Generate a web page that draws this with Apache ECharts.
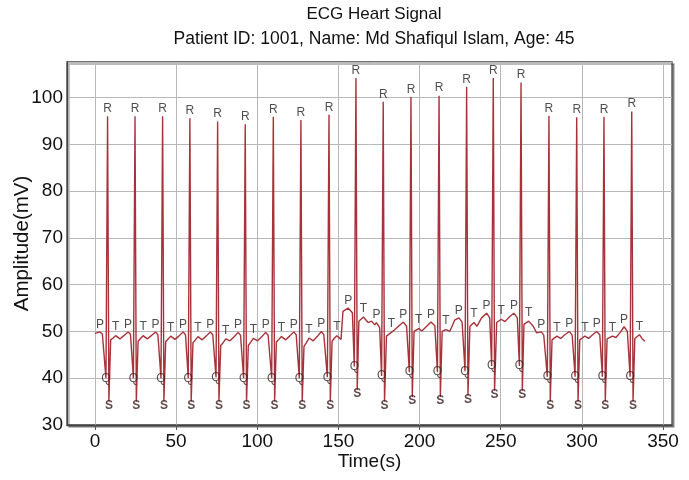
<!DOCTYPE html>
<html>
<head>
<meta charset="utf-8">
<script src="https://cdn.jsdelivr.net/npm/echarts@6/dist/echarts.min.js"></script>
<style>
  html, body { margin: 0; padding: 0; background: #fff; }
  #ecg { width: 689px; height: 480px; }
</style>
</head>
<body>
<div id="ecg"></div>
<script>
// ECG wave points: [time(s), amplitude(mV)]
var pWave = [[3.1,49.9],[20.4,49.9],[37.3,49.9],[54.3,49.9],[71.1,49.9],[88.2,49.8],[105.2,49.8],[122.5,49.9],[139.5,50.0],[156.0,55.0],
             [173.4,51.9],[190.0,52.0],[207.0,52.0],[224.2,52.9],[241.3,53.9],[258.1,53.9],[275.0,49.9],[292.2,50.0],[309.1,50.0],[326.0,51.0]];
var qWave = [[6.8,40.0],[23.7,40.0],[40.7,40.0],[57.5,40.0],[74.6,40.2],[91.6,40.0],[108.9,40.0],[125.9,40.0],[143.2,40.2],[159.8,42.5],
             [176.6,40.5],[193.7,41.3],[211.0,41.3],[228.0,41.5],[244.4,42.6],[261.5,42.6],[278.7,40.3],[295.8,40.3],[312.6,40.3],[329.7,40.3]];
var rWave = [[7.8,96.0],[24.7,96.0],[41.7,96.0],[58.5,95.6],[75.6,94.9],[92.6,94.3],[109.9,95.9],[126.9,95.2],[144.2,96.3],[160.8,104.2],
             [177.6,99.1],[194.7,100.1],[212.0,100.4],[229.0,102.3],[245.4,104.2],[262.5,103.2],[279.7,96.1],[296.8,95.8],[313.6,95.9],[330.7,97.0]];
var sWave = [[8.6,35.0],[25.5,35.0],[42.5,35.0],[59.3,35.0],[76.4,35.0],[93.4,35.0],[110.7,35.0],[127.7,35.0],[145.0,35.0],[161.6,37.5],
             [178.4,35.0],[195.5,36.0],[212.8,36.0],[229.8,36.3],[246.2,37.3],[263.3,37.3],[280.5,35.0],[297.6,35.0],[314.4,35.0],[331.5,35.0]];
var tWave = [[12.8,49.1],[29.7,49.1],[46.7,49.0],[63.5,48.9],[80.6,48.4],[97.6,48.5],[114.9,48.9],[131.9,48.6],[149.0,49.1],[165.4,53.1],
             [182.6,49.8],[199.5,50.6],[216.2,50.4],[233.5,51.9],[250.3,52.6],[267.2,52.2],[284.6,49.0],[301.8,49.0],[318.8,49.0],[335.4,49.3]];
// the small wiggles of the trace between the labelled waves
var bendPoints = [
  [0.0,49.6],[4.6,49.4],
  [9.7,48.2],[11.2,48.6],[15.4,48.4],[17.8,49.1],[21.9,49.4],
  [26.6,47.9],[28.1,48.5],[32.3,48.4],[34.7,49.1],[38.8,49.3],
  [43.6,47.8],[45.1,48.4],[49.3,48.3],[51.7,49.0],[55.8,49.3],
  [60.4,47.6],[61.9,48.2],[66.1,48.2],[68.5,49.0],[72.6,49.3],
  [77.5,47.0],[79.0,47.6],[83.2,48.0],[85.6,48.8],[89.7,49.2],
  [94.5,47.0],[96.0,47.7],[100.2,48.0],[102.6,48.8],[106.7,49.2],
  [111.8,47.8],[113.3,48.3],[117.5,48.2],[119.9,49.0],[124.0,49.3],
  [128.8,46.8],[130.3,47.6],[134.5,48.0],[136.9,48.9],[141.0,49.3],
  [146.1,47.9],[147.6,48.6],[151.6,48.3],[152.8,54.3],[158.6,54.0],
  [162.6,52.2],[168.3,51.9],[170.4,52.2],[172.4,51.4],[175.4,50.8],
  [179.6,49.0],[184.5,50.3],[187.0,51.1],[192.0,51.1],
  [196.6,50.0],[201.4,50.1],[204.4,51.1],[209.4,51.2],
  [213.9,50.0],[218.6,50.0],[221.6,52.4],[226.2,52.0],
  [231.0,51.1],[235.3,51.1],[238.2,52.9],[243.2,52.9],
  [247.5,51.9],[252.6,52.1],[255.6,53.2],[260.2,52.9],
  [264.3,51.5],[270.0,51.1],[272.1,49.7],[276.5,49.2],
  [281.6,48.2],[286.9,48.5],[289.5,49.3],[294.0,49.2],
  [298.7,48.2],[300.2,48.6],[304.1,48.5],[306.6,49.3],[311.0,49.3],
  [315.5,48.4],[317.0,48.7],[321.0,48.7],[323.6,49.8],[328.0,50.0],
  [332.6,48.5],[337.0,48.5],[338.8,47.9]
];
var xTicks = [0, 50, 100, 150, 200, 250, 300, 350];
var yTicks = [30, 40, 50, 60, 70, 80, 90, 100];

var trace = [].concat(pWave, qWave, rWave, sWave, tWave, bendPoints);
trace.sort(function (a, b) { return a[0] - b[0]; });

var font = 'Liberation Sans, Arial, sans-serif';

function waveLabels(name, data, position, distance, extra) {
    var label = {
        show: true,
        formatter: name,
        position: position,
        distance: distance,
        color: '#222',
        fontSize: 12,
        fontFamily: font
    };
    for (var k in extra) label[k] = extra[k];
    return {
        type: 'scatter',
        name: name,
        data: data,
        symbolSize: 1,
        itemStyle: { color: 'rgba(0,0,0,0)' },
        label: label,
        z: 5,
        silent: true
    };
}

var chartDom = document.getElementById('ecg');
var myChart = echarts.init(chartDom, null, { renderer: 'canvas' });
var option;

option = {
    animation: false,
    backgroundColor: '#fff',
    title: [
        {
            text: 'ECG Heart Signal',
            left: 369, top: 1, textAlign: 'center',
            textStyle: { fontSize: 17, fontWeight: 'normal', color: '#111', fontFamily: font }
        },
        {
            text: 'Patient ID: 1001, Name: Md Shafiqul Islam, Age: 45',
            left: 369, top: 25, textAlign: 'center',
            textStyle: { fontSize: 17.5, fontWeight: 'normal', color: '#111', fontFamily: font }
        }
    ],
    grid: {
        left: 67, right: 17, top: 62, bottom: 55,
        outerBoundsMode: 'none',
        containLabel: false,
        show: true,
        backgroundColor: '#fff',
        borderColor: '#444',
        borderWidth: 1.3,
        shadowColor: 'rgba(0,0,0,0.35)',
        shadowOffsetX: 2,
        shadowOffsetY: 2
    },
    xAxis: {
        type: 'value',
        min: -17.2,
        max: 355.5,
        splitNumber: 8,
        name: 'Time(s)',
        nameLocation: 'middle',
        nameGap: 27,
        nameMoveOverlap: false,
        nameTextStyle: { fontSize: 19, color: '#111', fontFamily: font },
        axisLine: { show: true, onZero: false, lineStyle: { color: '#444', width: 1.3 } },
        axisTick: { show: true, length: 5, customValues: xTicks, lineStyle: { color: '#555' } },
        axisLabel: { customValues: xTicks, margin: 7, fontSize: 19, color: '#111', fontFamily: font },
        splitLine: { show: true, lineStyle: { color: '#b8b8b8', width: 1 } }
    },
    yAxis: {
        type: 'value',
        min: 30,
        max: 107.6,
        interval: 10,
        name: 'Amplitude(mV)',
        nameLocation: 'middle',
        nameGap: 34,
        nameMoveOverlap: false,
        nameTextStyle: { fontSize: 20.5, color: '#111', fontFamily: font },
        axisLine: { show: true, onZero: false, lineStyle: { color: '#444', width: 1.3 } },
        axisTick: { show: false },
        axisLabel: { customValues: yTicks, margin: 4, fontSize: 19, color: '#111', fontFamily: font },
        splitLine: { show: true, lineStyle: { color: '#b8b8b8', width: 1 } }
    },
    series: [
        {
            name: 'ECG',
            type: 'line',
            data: trace,
            showSymbol: false,
            lineStyle: { color: '#a8323a', width: 1.4 },
            itemStyle: { color: '#a8323a' },
            z: 3,
            silent: true
        },
        waveLabels('P', pWave, 'top', 1, {}),
        waveLabels('T', tWave, 'top', 2, {}),
        waveLabels('R', rWave, 'top', 1, {}),
        waveLabels('Q', qWave, 'inside', 0, { color: '#3a2020' }),
        waveLabels('S', sWave, 'inside', 0, { color: '#3a1a1a', fontWeight: 'bold', offset: [0, 4] })
    ]
};

option && myChart.setOption(option);
</script>
</body>
</html>
